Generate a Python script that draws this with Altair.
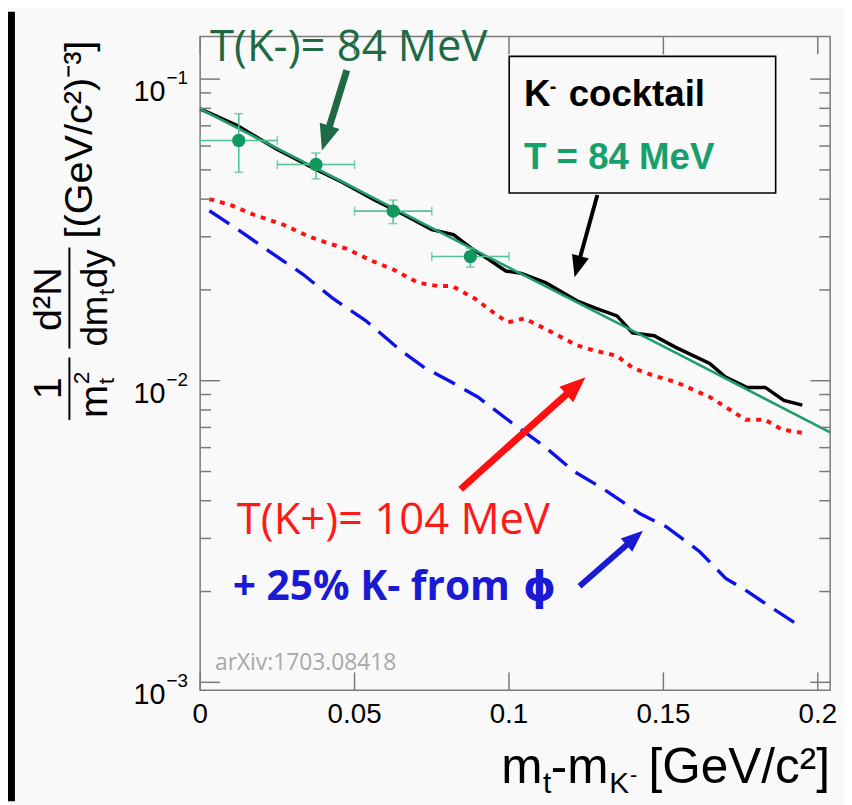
import math
import altair as alt
import pandas as pd

# ---------------- data ----------------
cocktail_x = [0.0, 0.012, 0.025, 0.038, 0.046, 0.056, 0.066, 0.075, 0.082, 0.088, 0.093, 0.099, 0.104,
              0.112, 0.122, 0.128, 0.135, 0.140, 0.147, 0.154, 0.165, 0.170, 0.177, 0.183, 0.189, 0.195]
cocktail_y = [0.0797, 0.0701, 0.0584, 0.0499, 0.0455, 0.0400, 0.0355, 0.0317, 0.0305, 0.0274, 0.0254, 0.0231, 0.0227,
              0.0211, 0.0184, 0.0174, 0.0164, 0.0144, 0.0141, 0.0129, 0.0114, 0.0103, 0.0095, 0.0095, 0.0086, 0.0083]

fit_x = [0.0, 0.05, 0.10, 0.15, 0.204]
fit_y = [0.0797, 0.0435, 0.0237, 0.0130, 0.00674]

kplus_x = [0.003, 0.0097, 0.0174, 0.027, 0.0354, 0.0418, 0.0473, 0.0559, 0.0624, 0.0707, 0.0771, 0.0816, 0.089,
           0.0954, 0.0996, 0.105, 0.1115, 0.122, 0.1275, 0.1349, 0.1403, 0.1468, 0.1541, 0.165, 0.1702, 0.1766,
           0.183, 0.1885, 0.1949]
kplus_y = [0.0400, 0.0383, 0.0355, 0.0329, 0.0300, 0.0285, 0.0274, 0.0249, 0.0234, 0.0211, 0.0206, 0.0206, 0.0187,
           0.0167, 0.0156, 0.0161, 0.0149, 0.0131, 0.0126, 0.0121, 0.0110, 0.0104, 0.00989, 0.00883, 0.00818, 0.00742,
           0.00742, 0.00688, 0.00672]

phi_x = [0.003, 0.0119, 0.0225, 0.0334, 0.0431, 0.0537, 0.0649, 0.0729, 0.0803, 0.0899, 0.1009, 0.1115, 0.121,
         0.1307, 0.1425, 0.1509, 0.1618, 0.1702, 0.1766, 0.1853, 0.1949]
phi_y = [0.0366, 0.0319, 0.0268, 0.0225, 0.0187, 0.0158, 0.0126, 0.0110, 0.01004, 0.00883, 0.00725, 0.00605, 0.00501,
         0.00437, 0.00362, 0.00328, 0.00271, 0.00221, 0.00202, 0.00176, 0.00152]

pts_x = [0.0125, 0.0375, 0.0625, 0.0875]
pts_xlo = [0.0, 0.025, 0.05, 0.075]
pts_xhi = [0.025, 0.05, 0.075, 0.1]
pts_y = [0.0626, 0.0521, 0.0365, 0.0258]
pts_ylo = [0.0491, 0.0467, 0.0332, 0.0238]
pts_yhi = [0.0768, 0.0569, 0.0397, 0.0275]

x_ticks = [0.0, 0.05, 0.1, 0.15, 0.2]
x_tick_labels = ["0", "0.05", "0.1", "0.15", "0.2"]
y_major = [0.001, 0.01, 0.1]
y_major_exp = ["\u22123", "\u22122", "\u22121"]
y_minor = [0.002, 0.003, 0.004, 0.005, 0.006, 0.007, 0.008, 0.009,
           0.02, 0.03, 0.04, 0.05, 0.06, 0.07, 0.08, 0.09]

# ---------------- layout ----------------
W, H = 636, 660
X0, Y0 = 202, 33          # page position of the plot origin
xs = alt.Scale(domain=[0, 0.204], nice=False, zero=False)
ys = alt.Scale(type="log", domain=[0.000941, 0.1384], nice=False)
AXC = "#7a7a7a"
one = pd.DataFrame({"k": [0]})


def XQ(f):
    return alt.X(f, type="quantitative", scale=xs, axis=None)


def YQ(f):
    return alt.Y(f, type="quantitative", scale=ys, axis=None)


def txt(s, px, py, size, color="black", font="Liberation Sans", bold=False,
        align="left", baseline="alphabetic", angle=0):
    return alt.Chart(one).mark_text(
        text=s, font=font, fontSize=size, fontWeight="bold" if bold else "normal",
        color=color, align=align, baseline=baseline, angle=angle
    ).encode(x=alt.value(px - X0), y=alt.value(py - Y0))


def seg(x0, y0, x1, y1, color, width):
    return alt.Chart(one).mark_rule(color=color, strokeWidth=width, strokeCap="butt").encode(
        x=alt.value(x0 - X0), y=alt.value(y0 - Y0), x2=alt.value(x1 - X0), y2=alt.value(y1 - Y0))


def arrow(x0, y0, x1, y1, color, width, head):
    dx, dy = x1 - x0, y1 - y0
    L = math.hypot(dx, dy)
    ux, uy = dx / L, dy / L
    sx, sy = x1 - ux * head * 0.7, y1 - uy * head * 0.7
    ang = math.degrees(math.atan2(dx, -dy)) % 360
    shaft = seg(x0, y0, sx, sy, color, width)
    hd = alt.Chart(one).mark_point(
        shape="M0,0L0.8,2L-0.8,2Z", filled=True, color=color, opacity=1,
        size=head * head, angle=ang, strokeWidth=0
    ).encode(x=alt.value(x1 - X0), y=alt.value(y1 - Y0))
    return shaft + hd


# ---------------- tables ----------------
df_cock = pd.DataFrame({"x": cocktail_x, "y": cocktail_y})
df_fit = pd.DataFrame({"x": fit_x, "y": fit_y})
df_kp = pd.DataFrame({"x": kplus_x, "y": kplus_y})
df_phi = pd.DataFrame({"x": phi_x, "y": phi_y})
df_pts = pd.DataFrame({"x": pts_x, "xlo": pts_xlo, "xhi": pts_xhi,
                       "y": pts_y, "ylo": pts_ylo, "yhi": pts_yhi})
df_xt = pd.DataFrame({"v": x_ticks, "lab": x_tick_labels})
df_ymaj = pd.DataFrame({"v": y_major, "e": y_major_exp})
df_ymin = pd.DataFrame({"v": y_minor})

layers = []

# black strip at the left edge of the picture
layers.append(alt.Chart(one).mark_rect(color="black").encode(
    x=alt.value(-194), x2=alt.value(-187), y=alt.value(-25), y2=alt.value(772)))

# curves
layers.append(alt.Chart(df_phi).mark_line(color="#0f12e8", strokeWidth=3.4, strokeDash=[24, 11]).encode(
    x=XQ("x"), y=YQ("y")))
layers.append(alt.Chart(df_kp).mark_line(color="#ff1010", strokeWidth=4, strokeDash=[5, 6]).encode(
    x=XQ("x"), y=YQ("y")))
layers.append(alt.Chart(df_cock).mark_line(color="black", strokeWidth=3.5).encode(
    x=XQ("x"), y=YQ("y")))
layers.append(alt.Chart(df_fit).mark_line(color="#1e9e6c", strokeWidth=2.5).encode(
    x=XQ("x"), y=YQ("y")))

# data points with error bars
EBC = "#56c096"
layers.append(alt.Chart(df_pts).mark_rule(color=EBC, strokeWidth=1.6).encode(
    x=XQ("xlo"), x2="xhi", y=YQ("y")))
layers.append(alt.Chart(df_pts).mark_rule(color=EBC, strokeWidth=1.6).encode(
    x=XQ("x"), y=YQ("ylo"), y2="yhi"))
for f in ["xlo", "xhi"]:
    layers.append(alt.Chart(df_pts).mark_tick(color=EBC, orient="vertical", size=9, thickness=1.6).encode(
        x=XQ(f), y=YQ("y")))
for f in ["ylo", "yhi"]:
    layers.append(alt.Chart(df_pts).mark_tick(color=EBC, orient="horizontal", size=9, thickness=1.6).encode(
        x=XQ("x"), y=YQ(f)))
layers.append(alt.Chart(df_pts).mark_circle(color="#12975e", size=180, opacity=1).encode(
    x=XQ("x"), y=YQ("y")))

# inward ticks (ROOT style) on all four sides
layers.append(alt.Chart(df_ymaj).mark_rule(color=AXC, strokeWidth=1.5).encode(
    y=YQ("v"), x=alt.value(0), x2=alt.value(20)))
layers.append(alt.Chart(df_ymin).mark_rule(color=AXC, strokeWidth=1.5).encode(
    y=YQ("v"), x=alt.value(0), x2=alt.value(11)))
layers.append(alt.Chart(df_ymaj).mark_rule(color=AXC, strokeWidth=1.5).encode(
    y=YQ("v"), x=alt.value(W), x2=alt.value(W - 20)))
layers.append(alt.Chart(df_ymin).mark_rule(color=AXC, strokeWidth=1.5).encode(
    y=YQ("v"), x=alt.value(W), x2=alt.value(W - 11)))
layers.append(alt.Chart(df_xt).mark_rule(color=AXC, strokeWidth=1.5).encode(
    x=XQ("v"), y=alt.value(H), y2=alt.value(H - 18)))
layers.append(alt.Chart(df_xt).mark_rule(color=AXC, strokeWidth=1.5).encode(
    x=XQ("v"), y=alt.value(0), y2=alt.value(18)))

# tick labels
layers.append(alt.Chart(df_xt).mark_text(font="Liberation Sans", fontSize=28, baseline="top",
                                         align="center", color="black").encode(
    x=XQ("v"), y=alt.value(H + 11), text="lab:N"))
layers.append(alt.Chart(df_ymaj).mark_text(font="Liberation Sans", fontSize=29, align="right",
                                           dy=13, color="black", text="10").encode(
    y=YQ("v"), x=alt.value(167 - X0)))
layers.append(alt.Chart(df_ymaj).mark_text(font="Liberation Sans", fontSize=19, align="left",
                                           dy=-1, color="black").encode(
    y=YQ("v"), x=alt.value(168 - X0), text="e:N"))

# x-axis title  m_t-m_K- [GeV/c2]
layers.append(txt("m", 506, 787, 50))
layers.append(txt("t", 548, 797, 30))
layers.append(txt("-m", 556, 787, 50))
layers.append(txt("K", 615, 797, 30))
layers.append(txt("-", 636, 786, 22))
layers.append(txt("[GeV/c\u00b2]", 838, 787, 50, align="right"))

# y-axis title  1/m_t^2 d2N/dm_t dy [(GeV/c2)-3]  (rotated)
layers.append(txt("[(GeV/c\u00b2)\u207b\u00b3]", 93, 137, 40, align="center", angle=270))
layers.append(txt("d\u00b2N", 62, 298, 40, align="center", angle=270))
layers.append(seg(70, 348, 70, 246, "black", 2))
layers.append(txt("dm", 108, 346, 37, align="left", angle=270))
layers.append(txt("t", 115, 294, 22, align="left", angle=270))
layers.append(txt("dy", 108, 287, 37, align="left", angle=270))
layers.append(txt("1", 62, 388, 40, align="center", angle=270))
layers.append(seg(70, 420, 70, 357, "black", 2))
layers.append(txt("m", 108, 418, 40, align="left", angle=270))
layers.append(txt("t", 115, 384, 23, align="left", angle=270))
layers.append(txt("2", 90, 384, 23, align="left", angle=270))

# legend box
layers.append(alt.Chart(one).mark_rect(fill="#f9f9f9", stroke="black", strokeWidth=1.6).encode(
    x=alt.value(514 - X0), x2=alt.value(783 - X0), y=alt.value(53 - Y0), y2=alt.value(191 - Y0)))
layers.append(txt("K", 529, 103, 37, bold=True))
layers.append(txt("-", 555, 90, 20, bold=True))
layers.append(txt("cocktail", 574, 103, 37, bold=True))
layers.append(txt("T = 84 MeV", 529, 167, 37, color="#16a06c", bold=True))

# annotations
layers.append(txt("T(K-)= 84 MeV", 212, 58, 44, color="#1d6a45", font="Open Sans"))
layers.append(txt("T(K+)= 104 MeV", 239, 535, 44, color="#ff1a1a", font="Open Sans"))
layers.append(txt("+ 25% K- from", 235, 602, 41, color="#1a1ad2", font="Open Sans", bold=True))
layers.append(txt("\u03d5", 528, 602, 42, color="#1a1ad2", font="DejaVu Sans", bold=True))
layers.append(txt("arXiv:1703.08418", 217, 673, 23, color="#a8a8a8", font="Open Sans"))

layers.append(arrow(350, 67, 325, 148, "#1d6a45", 7, 26))
layers.append(arrow(603, 193, 580, 276, "black", 4, 22))
layers.append(arrow(465, 490, 591, 377, "#ff1010", 7, 26))
layers.append(arrow(585, 588, 649, 532, "#1a1ad2", 6, 22))

chart = alt.layer(*layers).properties(
    width=W, height=H,
    padding={"left": 194, "top": 25, "right": 14, "bottom": 112},
    autosize=alt.AutoSizeParams(type="none"),
    background="#f9f9f9",
).configure_view(stroke=AXC, strokeWidth=1.5)

chart.save("out.html", embed_options={"renderer": "svg", "actions": False})
